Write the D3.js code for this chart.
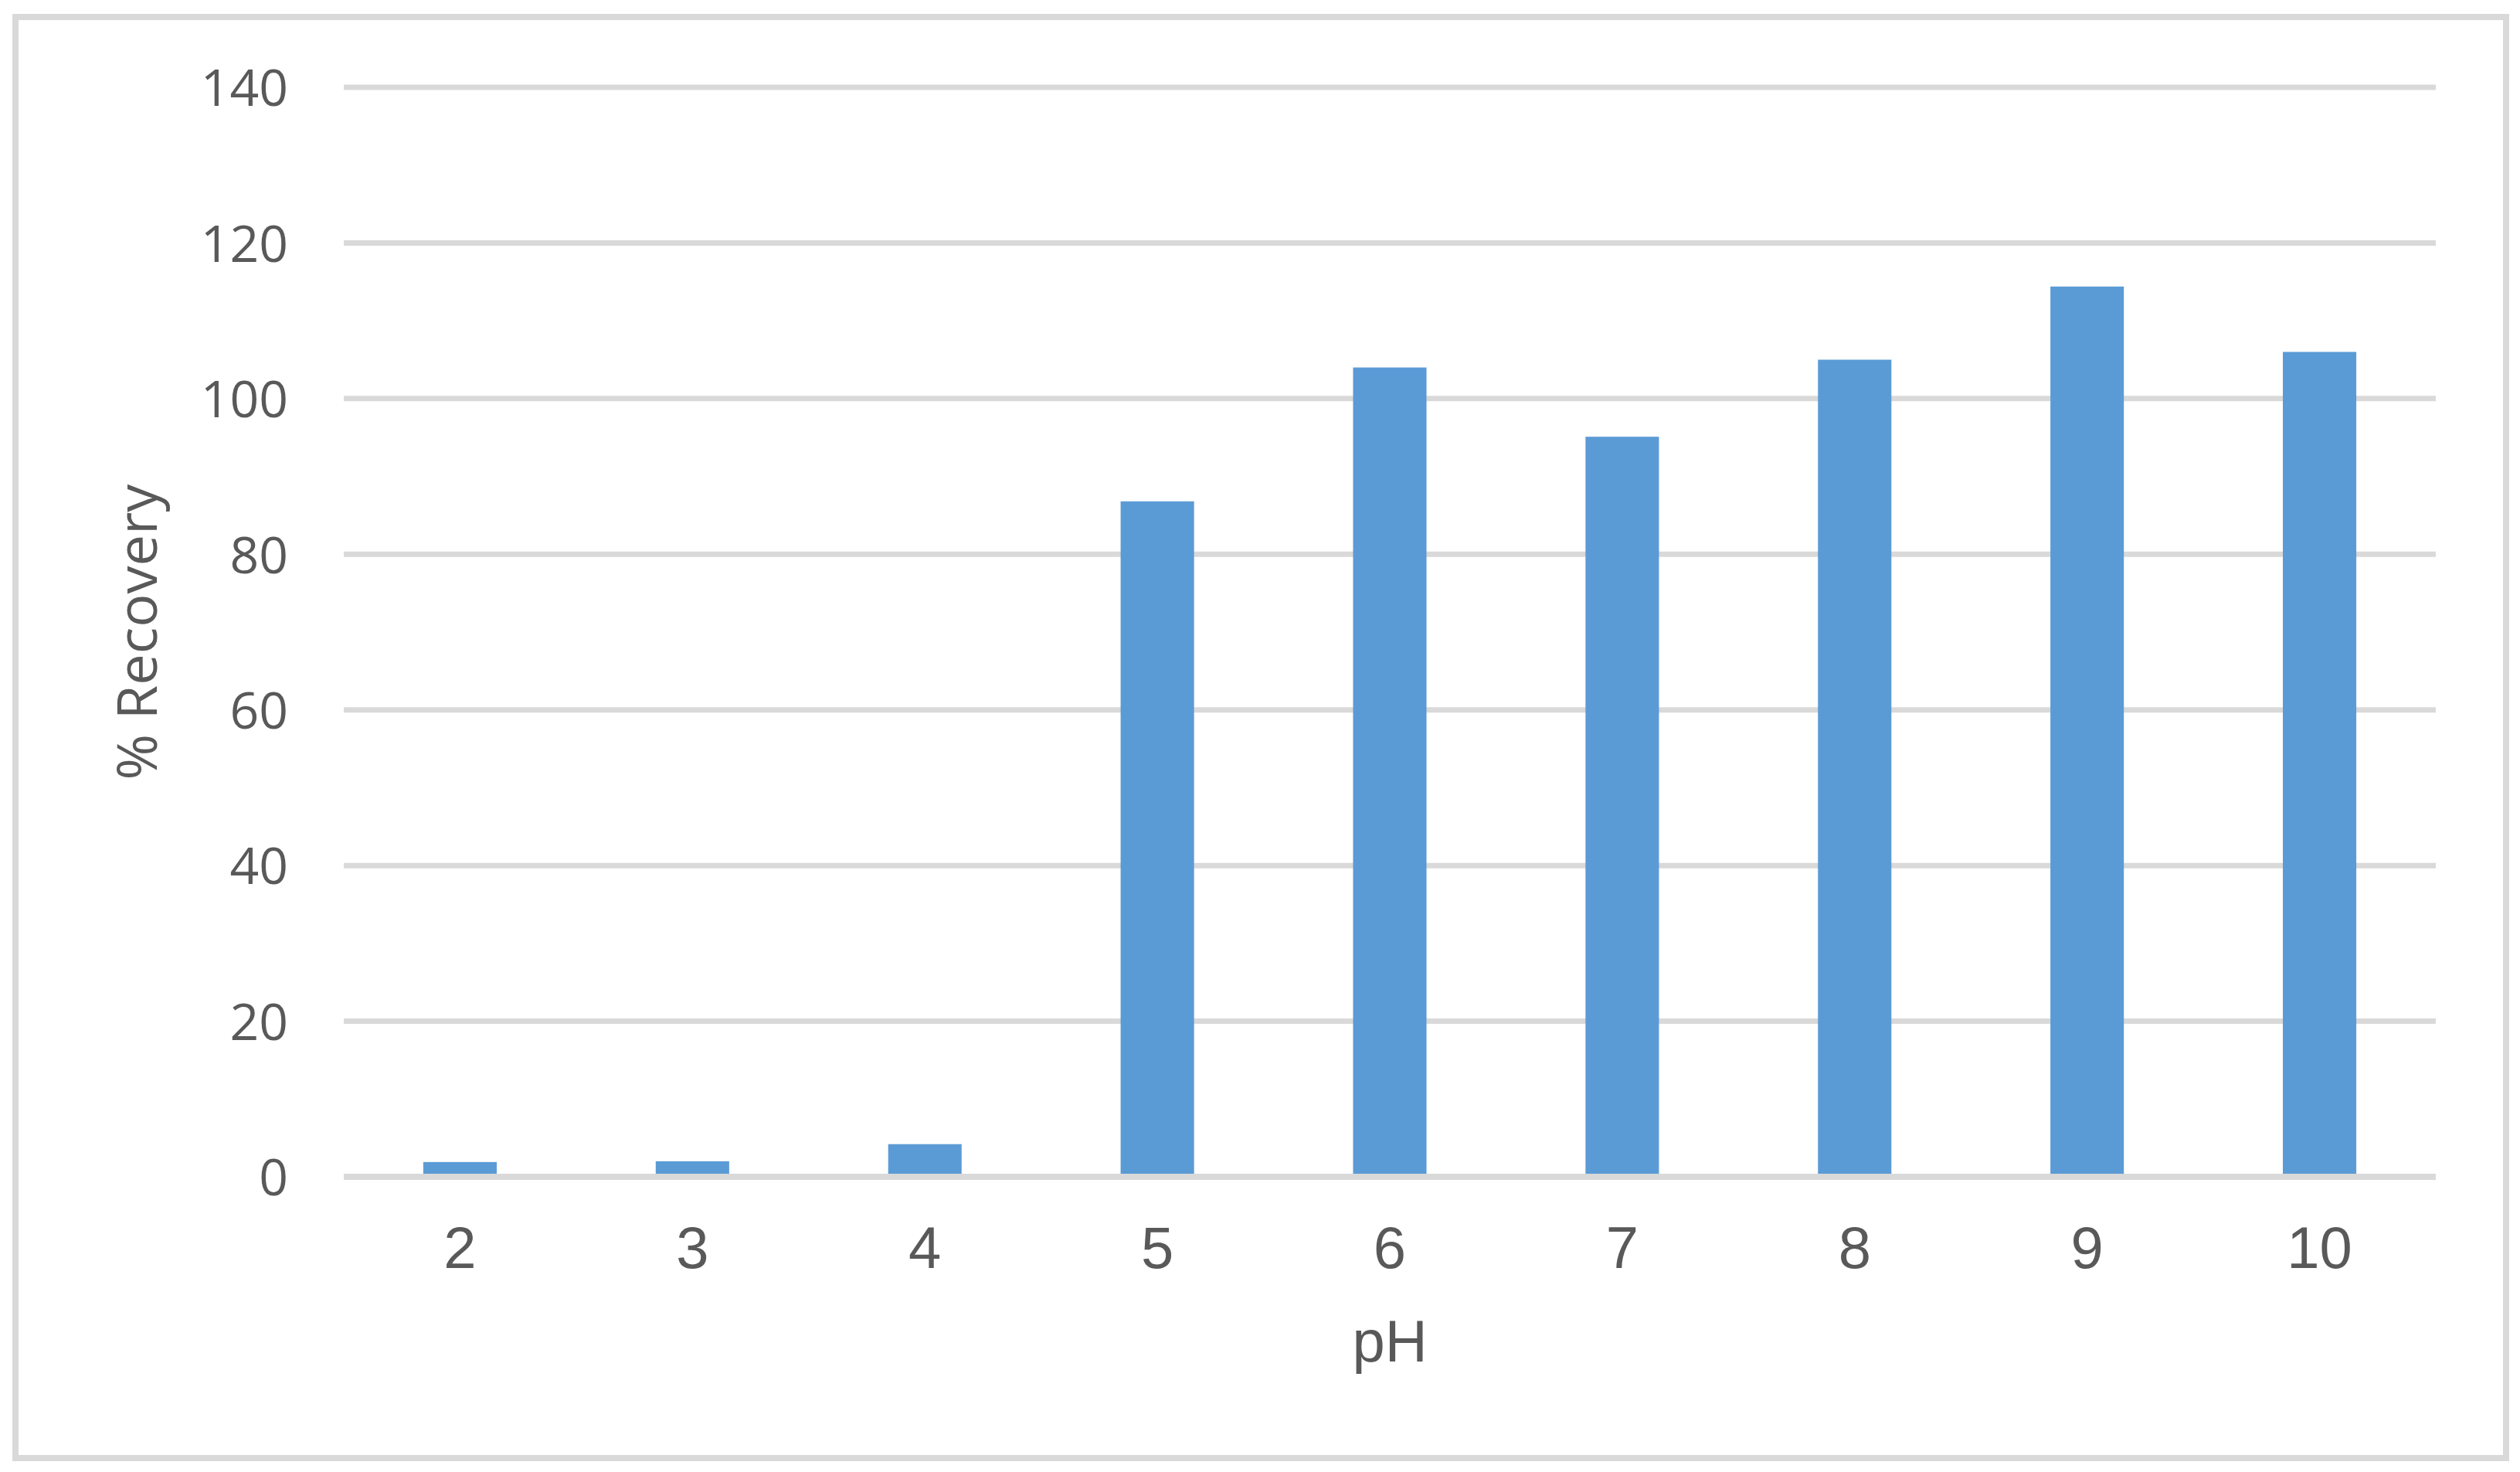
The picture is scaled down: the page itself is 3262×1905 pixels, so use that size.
<!DOCTYPE html>
<html>
<head>
<meta charset="utf-8">
<script src="https://cdn.jsdelivr.net/npm/d3@7"></script>
<style>
  body { margin: 0; background: #ffffff; }
  .ytick { font-family: "Open Sans", sans-serif; font-size: 66px; fill: #595959; }
  .xtick { font-family: "Liberation Sans", Arial, sans-serif; font-size: 76px; fill: #595959; }
  .label-x { font-family: "Liberation Sans", Arial, sans-serif; font-size: 76px; fill: #595959; }
  .label-y { font-family: "Open Sans", sans-serif; font-size: 72px; fill: #595959; }
</style>
</head>
<body>
<div id="chart"></div>
<script>
// data
var phLevels = ["2", "3", "4", "5", "6", "7", "8", "9", "10"];
var recovery = [1.9, 2.0, 4.2, 86.8, 104.0, 95.1, 105.0, 114.4, 106.0];
var yTicks = [0, 20, 40, 60, 80, 100, 120, 140];

var W = 3262, H = 1905;
var margin = {top: 113, right: 109, bottom: 382, left: 445};
var width = W - margin.left - margin.right;
var height = H - margin.top - margin.bottom;

var svg = d3.select("#chart").append("svg")
    .attr("width", W)
    .attr("height", H);

// outer chart border
svg.append("rect")
    .attr("x", 20)
    .attr("y", 22)
    .attr("width", 3244 - 20)
    .attr("height", 1887 - 22)
    .attr("fill", "#ffffff")
    .attr("stroke", "#d9d9d9")
    .attr("stroke-width", 8);

var g = svg.append("g")
    .attr("transform", "translate(" + margin.left + "," + margin.top + ")");

// scales
var x = d3.scaleBand()
    .domain(phLevels)
    .range([0, width])
    .paddingInner(0.684)
    .paddingOuter(0.342);

var y = d3.scaleLinear()
    .domain([0, 140])
    .range([height, 0]);

// gridlines (behind the bars)
g.selectAll(".grid")
    .data(yTicks.filter(function(d) { return d > 0; }))
    .enter()
    .append("line")
    .attr("class", "grid")
    .attr("x1", 0)
    .attr("x2", width)
    .attr("y1", function(d) { return y(d); })
    .attr("y2", function(d) { return y(d); })
    .attr("stroke", "#d9d9d9")
    .attr("stroke-width", 7);

// bars
g.selectAll(".bar")
    .data(recovery)
    .enter()
    .append("rect")
    .attr("class", "bar")
    .attr("x", function(d, i) { return x(phLevels[i]); })
    .attr("width", x.bandwidth())
    .attr("y", function(d) { return y(d); })
    .attr("height", function(d) { return y(0) - y(d); })
    .attr("fill", "#5b9bd5");

// zero line on top of the bars
g.append("line")
    .attr("x1", 0)
    .attr("x2", width)
    .attr("y1", y(0))
    .attr("y2", y(0))
    .attr("stroke", "#d9d9d9")
    .attr("stroke-width", 8);

// Y axis labels
var yAxis = d3.axisLeft(y).tickValues(yTicks).tickSize(0).tickPadding(72);
var yg = g.append("g").call(yAxis);
yg.select(".domain").remove();
yg.selectAll("text")
    .attr("class", "ytick")
    .attr("fill", null)
    .attr("dy", "0.36em")
    .style("font-size", null)
    .style("font-family", null);
yg.attr("font-size", null).attr("font-family", null);

// X axis labels
var xAxis = d3.axisBottom(x).tickSize(0).tickPadding(64);
var xg = g.append("g")
    .attr("transform", "translate(0," + height + ")")
    .call(xAxis);
xg.select(".domain").remove();
xg.selectAll("text")
    .attr("class", "xtick")
    .attr("fill", null)
    .attr("dy", "0.71em");
xg.attr("font-size", null).attr("font-family", null);

// axis titles
svg.append("text")
    .attr("class", "label-x")
    .attr("x", margin.left + width / 2)
    .attr("y", 1762)
    .attr("text-anchor", "middle")
    .text("pH");

svg.append("text")
    .attr("class", "label-y")
    .attr("transform", "translate(203," + (margin.top + height / 2) + ") rotate(-90)")
    .attr("text-anchor", "middle")
    .text("% Recovery");
</script>
</body>
</html>
